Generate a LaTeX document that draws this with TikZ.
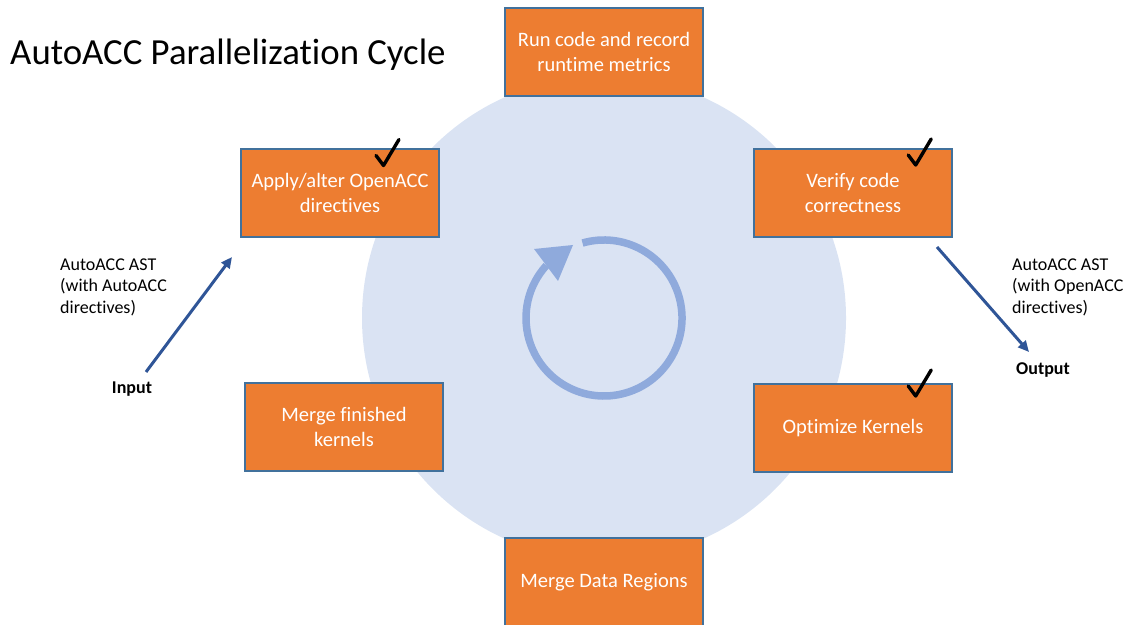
\documentclass[tikz,border=0pt]{standalone}
\usepackage{fontspec}
\setmainfont{Carlito}[Ligatures=NoCommon]
\usetikzlibrary{arrows.meta}
\definecolor{stepfill}{HTML}{ED7D31}
\definecolor{stepline}{HTML}{41719C}
\definecolor{ringfill}{HTML}{DAE3F3}
\definecolor{cyclecol}{HTML}{8FAADC}
\definecolor{flowcol}{HTML}{2F5597}
\begin{document}
\begin{tikzpicture}[x=1pt,y=1pt,
  stepbox/.style={rectangle, draw=stepline, line width=1.2pt, fill=stepfill,
    minimum width=198pt, minimum height=88pt, inner sep=0pt, align=center,
    text=white, font=\fontsize{20.5}{25}\selectfont},
  sidelabel/.style={anchor=north west, inner sep=0pt, align=left,
    font=\fontsize{18}{21.5}\selectfont},
  iolabel/.style={anchor=base, inner sep=0pt, font=\fontsize{18}{21.5}\selectfont\bfseries},
  flow/.style={draw=flowcol, line width=3pt, -{Triangle[length=11pt,width=10pt]}},
  checkmk/.pic={\draw[line width=3.4pt, line cap=round, line join=round]
    (-7.5,10) -- (0,0) -- (15.5,26);}
]
\useasboundingbox (0,0) rectangle (1131,624);

% background disc
\fill[ringfill] (604,306) circle[radius=242];

% cycle symbol in the middle
\draw[cyclecol, line width=7.5pt] (604,306) ++(106:78)
  arc[start angle=106, end angle=-222.4, radius=78];
\fill[cyclecol] (573,379) -- (534,375) -- (558,343) -- cycle;

% title
\node[anchor=base west, inner sep=0pt, font=\fontsize{36.8}{44}\selectfont] (title)
  at (10,559) {AutoACC Parallelization Cycle};

% steps of the cycle
\node[stepbox] (run)    at (604,572) {Run code and record\\runtime metrics};
\node[stepbox] (apply)  at (340,431) {Apply/alter OpenACC\\directives};
\node[stepbox] (verify) at (853,431) {Verify code\\correctness};
\node[stepbox] (mergek) at (344,197) {Merge finished\\kernels};
\node[stepbox] (optim)  at (853,196) {Optimize Kernels};
\node[stepbox] (merged) at (604,42)  {Merge Data Regions};

% completed steps
\pic at (383.5,458.5) {checkmk};
\pic at (915.7,459) {checkmk};
\pic at (915.7,228) {checkmk};

% input side
\node[sidelabel] (inast) at (60,365.6) {AutoACC AST\\(with AutoACC\\directives)};
\node[iolabel] (inlbl) at (132,230) {Input};
\coordinate (inA) at (146,252);
\coordinate (inB) at (232,367);
\draw[flow] (inA) -- (inB);

% output side
\node[sidelabel] (outast) at (1012,365.6) {AutoACC AST\\(with OpenACC\\directives)};
\node[iolabel] (outlbl) at (1043,249) {Output};
\coordinate (outA) at (937,377);
\coordinate (outB) at (1029,272);
\draw[flow] (outA) -- (outB);
\end{tikzpicture}
\end{document}
